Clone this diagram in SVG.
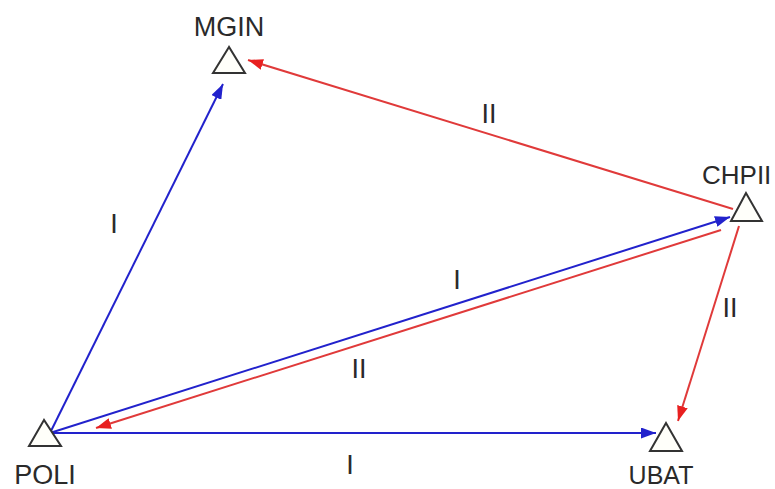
<svg xmlns="http://www.w3.org/2000/svg" width="775" height="489" viewBox="0 0 775 489">
<style>
.lbl{font-family:"Liberation Sans",Arial,sans-serif;font-size:27px;fill:#2a2a2a}
.tri{fill:#fffffa;stroke:#333;stroke-width:2}
.b{stroke:#2222cc;stroke-width:2;fill:none}
.r{stroke:#e03a3a;stroke-width:2;fill:none}
</style>
<defs>
<marker id="ab" markerUnits="userSpaceOnUse" markerWidth="15" markerHeight="11" refX="15" refY="5.5" orient="auto"><path d="M0,0 L15,5.5 L0,11 z" fill="#2222cc"/></marker>
<marker id="ar" markerUnits="userSpaceOnUse" markerWidth="15" markerHeight="11" refX="15" refY="5.5" orient="auto"><path d="M0,0 L15,5.5 L0,11 z" fill="#e82020"/></marker>
</defs>
<rect width="775" height="489" fill="#fff"/>
<g id="connectors">
<line class="b" x1="50" y1="433" x2="223" y2="84" marker-end="url(#ab)"/>
<line class="b" x1="50" y1="433" x2="730" y2="217" marker-end="url(#ab)"/>
<line class="b" x1="50" y1="433" x2="656" y2="433" marker-end="url(#ab)"/>
<line class="r" x1="733" y1="209" x2="248" y2="60" marker-end="url(#ar)"/>
<line class="r" x1="721" y1="230" x2="96" y2="428" marker-end="url(#ar)"/>
<line class="r" x1="739" y1="226" x2="678" y2="421" marker-end="url(#ar)"/>
<text class="lbl" x="114" y="233" text-anchor="middle">I</text>
<text class="lbl" x="489" y="123" text-anchor="middle">II</text>
<text class="lbl" x="457" y="289" text-anchor="middle">I</text>
<text class="lbl" x="359" y="378" text-anchor="middle">II</text>
<text class="lbl" x="730" y="317" text-anchor="middle">II</text>
<text class="lbl" x="350" y="474" text-anchor="middle">I</text>
</g>
<g id="MGIN">
<polygon class="tri" points="229,47 213,73 245,73"/>
<text class="lbl" x="229" y="36" text-anchor="middle">MGIN</text>
</g>
<g id="CHPII">
<polygon class="tri" points="746,193 731,221 762,221"/>
<text class="lbl" x="702" y="184" style="font-size:26px">CHPII</text>
</g>
<g id="POLI">
<polygon class="tri" points="44,420 29,446 61,446"/>
<text class="lbl" x="45" y="484" text-anchor="middle">POLI</text>
</g>
<g id="UBAT">
<polygon class="tri" points="666,423 650,451 682,451"/>
<text class="lbl" x="661" y="484" text-anchor="middle" style="font-size:25px">UBAT</text>
</g>
</svg>
